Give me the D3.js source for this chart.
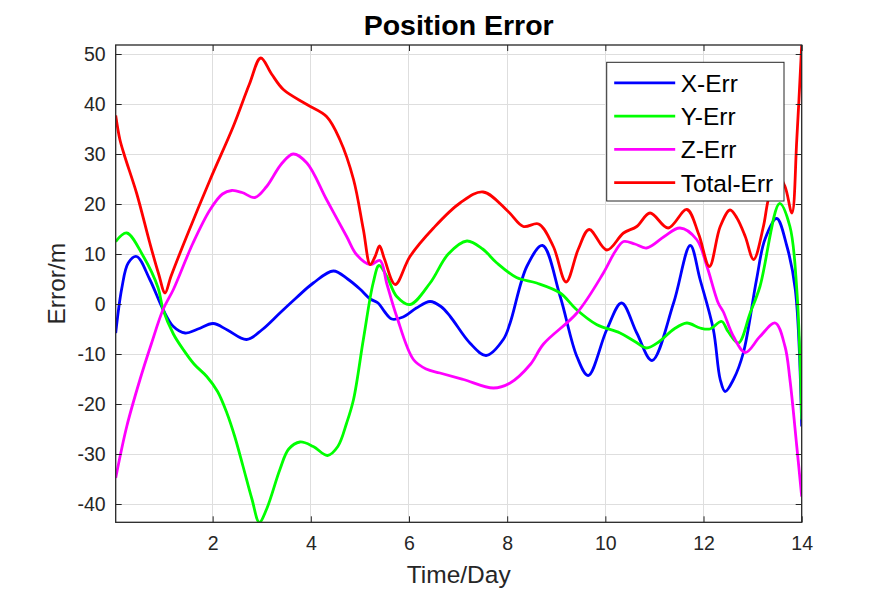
<!DOCTYPE html>
<html>
<head>
<meta charset="utf-8">
<script src="https://cdn.jsdelivr.net/npm/d3@7"></script>
<style>
  html, body { margin: 0; padding: 0; background: #fff; }
  svg { display: block; font-family: "Liberation Sans", Arial, Helvetica, sans-serif; }
</style>
</head>
<body>
<svg id="chart" width="886" height="591"></svg>
<script>
// ---------------- data ----------------
const xErrT = [0.025,0.15,0.28,0.45,0.72,0.99,1.2,1.44,1.7,2.01,2.3,2.69,3.0,3.37,3.7,4.05,4.46,4.75,5.0,5.21,5.37,5.5,5.65,5.88,6.15,6.43,6.65,6.84,7.24,7.57,7.92,8.06,8.4,8.72,9.08,9.42,9.65,10.03,10.33,10.64,10.95,11.39,11.73,11.93,12.2,12.34,12.44,12.61,12.81,13.08,13.25,13.49,13.7,13.87,14.0];
const xErrV = [-5.8,3.2,8.2,9.5,4.9,-1.1,-4.5,-5.8,-5.0,-3.9,-5.2,-7.1,-5.2,-1.8,1.2,4.2,6.6,5.0,3.0,1.0,0.2,-1.5,-3.0,-2.6,-0.8,0.5,-0.5,-2.5,-7.8,-10.3,-7.1,-3.8,7.5,11.7,1.5,-10.5,-14.3,-5.1,0.2,-5.8,-11.3,0.2,11.7,4.9,-5.1,-15.1,-17.5,-15.1,-9.8,4.9,12.9,17.1,11.5,2.9,-24.5];

const yErrT = [0.025,0.25,0.59,0.89,0.99,1.2,1.4,1.62,1.88,2.1,2.29,2.45,2.62,2.8,2.95,3.1,3.37,3.55,3.78,4.05,4.34,4.55,4.73,4.87,5.07,5.27,5.39,5.55,5.75,6.02,6.43,6.8,7.18,7.5,7.79,8.19,8.6,9.08,9.4,9.82,10.3,10.6,10.84,11.1,11.4,11.66,11.93,12.13,12.37,12.5,12.71,12.95,13.15,13.55,13.76,13.9,14.0];
const yErrV = [12.5,14.2,9.5,3.2,-1.1,-6,-9.1,-12,-14.5,-17.5,-21.8,-26.5,-32.5,-39,-43.66,-41,-33.1,-29,-27.6,-28.5,-30.3,-28.5,-23.8,-19.1,-7.1,4.2,7.7,5.5,1.5,-0.1,4.2,10,12.6,11,8.2,5.3,4.2,2.2,-1,-4.1,-5.8,-7.5,-8.8,-7.5,-5,-3.8,-4.8,-5.0,-3.5,-5.5,-7.8,-1.8,3.5,20.1,15.5,2.9,-23.1];

const zErrT = [0.025,0.25,0.52,0.75,0.99,1.2,1.6,1.95,2.2,2.39,2.6,2.86,3.1,3.4,3.64,3.92,4.32,4.73,4.93,5.21,5.41,5.55,5.75,6.09,6.35,6.63,7.11,7.72,8.06,8.47,8.74,9.42,9.96,10.2,10.37,10.6,10.84,11.2,11.52,11.86,12.07,12.3,12.4,12.61,12.85,13.15,13.46,13.66,13.76,13.9,14.0];
const zErrV = [-34.8,-24.5,-15.1,-8,-1.1,2.9,12.2,18.9,22,22.7,22.3,21.3,23.5,28,30.0,28.2,20.9,13.5,9.9,7.9,8.7,4,-2.5,-11.1,-13,-13.8,-15.1,-16.8,-15.8,-12.1,-8,-1.8,6.2,10.5,12.5,12,11.2,13.5,15.2,12.9,7.5,0.2,-1.5,-6.5,-9.7,-6.5,-3.8,-8.5,-15.1,-28.5,-38.5];

const totalErrT = [0.025,0.11,0.21,0.45,0.72,0.9,1.03,1.15,1.47,1.95,2.42,2.75,2.98,3.2,3.44,3.92,4.32,4.59,4.87,5.07,5.21,5.31,5.40,5.5,5.72,6.02,6.5,7.04,7.51,8.02,8.33,8.64,8.94,9.2,9.45,9.67,10.03,10.37,10.64,10.91,11.28,11.66,11.9,12.12,12.34,12.54,12.68,12.85,13.02,13.22,13.32,13.5,13.66,13.8,13.9,14.0];
const totalErrV = [37.7,32.9,29.5,22.2,12.2,6,2.2,5.5,13.5,24.9,35.5,44,49.2,46,42.9,39.9,37.5,32.9,24.9,14.9,7.9,9.5,11.6,9,3.9,9.5,15.2,20.2,22.4,18.5,15.5,16.0,11.5,4.4,11,14.9,10.8,14.2,15.5,18.2,15.2,18.9,14,7.5,15.5,18.8,17.2,13.5,8.9,15.5,20.9,26,23.5,18.2,32.9,51.8];

const seriesNames = ["X-Err", "Y-Err", "Z-Err", "Total-Err"];
const seriesColors = ["#0000ff", "#00ff00", "#ff00ff", "#ff0000"];
const xTicks = [2, 4, 6, 8, 10, 12, 14];
const yTicks = [-40, -30, -20, -10, 0, 10, 20, 30, 40, 50];
const titleText = "Position Error";
const xLabelText = "Time/Day";
const yLabelText = "Error/m";

// ---------------- layout ----------------
const svg = d3.select("#chart");
const W = 886, H = 591;
const plot = { left: 115.7, right: 801.7, top: 45, bottom: 522.3 };
const axisColor = "#262626";

const seriesT = [xErrT, yErrT, zErrT, totalErrT];
const seriesV = [xErrV, yErrV, zErrV, totalErrV];
const series = seriesNames.map((name, i) => ({
  name, color: seriesColors[i],
  pts: seriesT[i].map((t, j) => [t, seriesV[i][j]])
}));

const allT = seriesT.flat(), allV = seriesV.flat();
const x = d3.scaleLinear().domain(d3.extent(allT)).range([plot.left, plot.right]);
const y = d3.scaleLinear().domain(d3.extent(allV)).range([plot.bottom, plot.top]);

// background
svg.append("rect").attr("width", W).attr("height", H).attr("fill", "#fff");

// grid
const grid = svg.append("g").attr("stroke", "#dedede").attr("stroke-width", 1).attr("shape-rendering", "crispEdges");
grid.selectAll("line.gx").data(xTicks).join("line")
  .attr("x1", d => x(d)).attr("x2", d => x(d)).attr("y1", plot.top).attr("y2", plot.bottom);
grid.selectAll("line.gy").data(yTicks).join("line")
  .attr("y1", d => y(d)).attr("y2", d => y(d)).attr("x1", plot.left).attr("x2", plot.right);

// clip
svg.append("clipPath").attr("id", "clip").append("rect")
  .attr("x", plot.left).attr("y", plot.top)
  .attr("width", plot.right - plot.left).attr("height", plot.bottom - plot.top);

// lines
const line = d3.line().x(d => x(d[0])).y(d => y(d[1])).curve(d3.curveCatmullRom.alpha(0.5));
svg.append("g").attr("clip-path", "url(#clip)")
  .selectAll("path").data(series).join("path")
  .attr("d", d => line(d.pts))
  .attr("fill", "none").attr("stroke", d => d.color)
  .attr("stroke-width", 2.8).attr("stroke-linejoin", "round").attr("stroke-linecap", "butt");

// axes (MATLAB style: box with inward ticks on all sides)
const tickLen = 6;
const fmt = d => String(d); // plain hyphen-minus like MATLAB
const xAxisB = d3.axisBottom(x).tickValues(xTicks).tickSizeInner(-tickLen).tickSizeOuter(0).tickPadding(14).tickFormat(fmt);
const xAxisT = d3.axisTop(x).tickValues(xTicks).tickSizeInner(-tickLen).tickSizeOuter(0).tickFormat("");
const yAxisL = d3.axisLeft(y).tickValues(yTicks).tickSizeInner(-tickLen).tickSizeOuter(0).tickPadding(10).tickFormat(fmt);
const yAxisR = d3.axisRight(y).tickValues(yTicks).tickSizeInner(-tickLen).tickSizeOuter(0).tickFormat("");

function styleAxis(g) {
  g.select(".domain").remove();
  g.selectAll(".tick line").attr("stroke", axisColor).attr("stroke-width", 1);
  g.selectAll(".tick text").attr("fill", axisColor).style("font-size", "19.5px")
    .style("font-family", "'Liberation Sans', Arial, sans-serif");
}
svg.append("g").attr("transform", `translate(0,${plot.bottom})`).call(xAxisB).call(styleAxis);
svg.append("g").attr("transform", `translate(0,${plot.top})`).call(xAxisT).call(styleAxis);
svg.append("g").attr("transform", `translate(${plot.left},0)`).call(yAxisL).call(styleAxis);
svg.append("g").attr("transform", `translate(${plot.right},0)`).call(yAxisR).call(styleAxis);

// box
svg.append("rect")
  .attr("x", plot.left).attr("y", plot.top)
  .attr("width", plot.right - plot.left).attr("height", plot.bottom - plot.top)
  .attr("fill", "none").attr("stroke", axisColor).attr("stroke-width", 1.3);

// title and labels
svg.append("text").attr("x", (plot.left + plot.right) / 2).attr("y", 35)
  .attr("text-anchor", "middle").attr("fill", "#000")
  .style("font-size", "28.5px").style("font-weight", "bold").text(titleText);
svg.append("text").attr("x", (plot.left + plot.right) / 2).attr("y", 583)
  .attr("text-anchor", "middle").attr("fill", axisColor)
  .style("font-size", "24.5px").text(xLabelText);
svg.append("text")
  .attr("transform", `translate(65,${(plot.top + plot.bottom) / 2}) rotate(-90)`)
  .attr("text-anchor", "middle").attr("fill", axisColor)
  .style("font-size", "24.5px").text(yLabelText);

// legend
const lg = svg.append("g");
const lgBox = { x: 606.7, y: 62.3, w: 177.3, h: 138.7 };
lg.append("rect").attr("x", lgBox.x).attr("y", lgBox.y).attr("width", lgBox.w).attr("height", lgBox.h)
  .attr("fill", "#fff").attr("stroke", axisColor).attr("stroke-width", 1);
const rowY = i => lgBox.y + 20.5 + i * 33.3;
lg.selectAll("line").data(series).join("line")
  .attr("x1", lgBox.x + 7.5).attr("x2", lgBox.x + 68.5)
  .attr("y1", (d, i) => rowY(i)).attr("y2", (d, i) => rowY(i))
  .attr("stroke", d => d.color).attr("stroke-width", 2.8);
lg.selectAll("text").data(series).join("text")
  .attr("x", lgBox.x + 74).attr("y", (d, i) => rowY(i) + 9)
  .attr("fill", "#000").style("font-size", "24.5px").text(d => d.name);
</script>
</body>
</html>
